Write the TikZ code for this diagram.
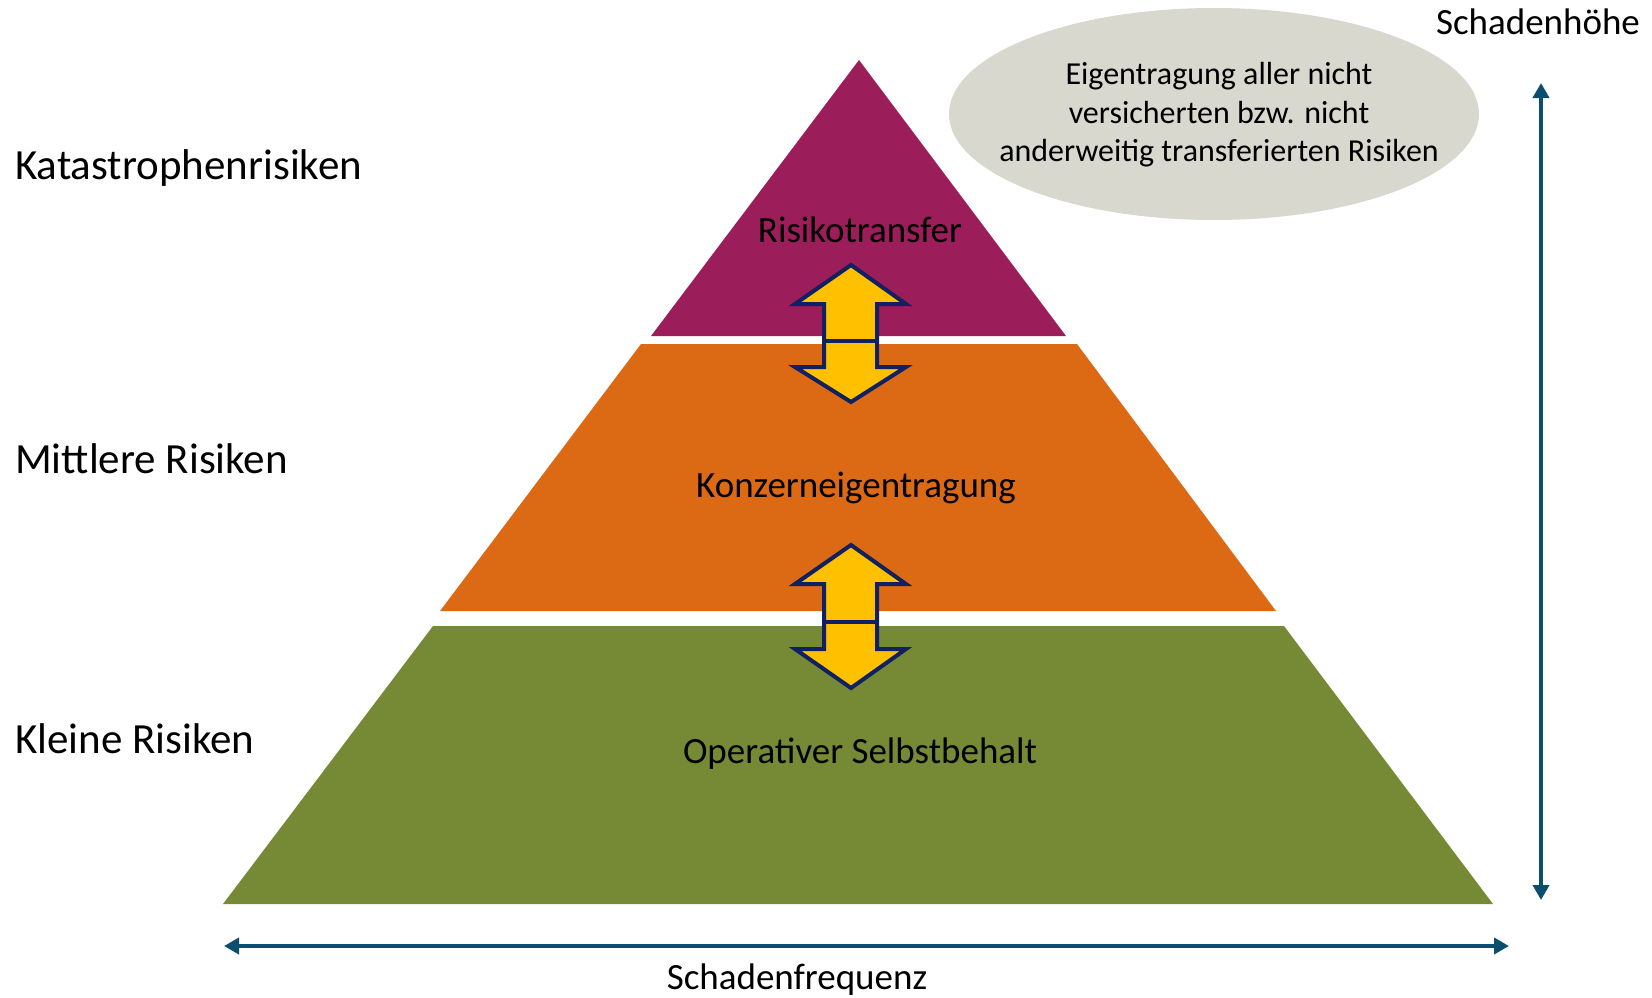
\documentclass[tikz,border=0pt]{standalone}
\usepackage{fontspec}
\setmainfont{Carlito}
\usetikzlibrary{arrows.meta}
\definecolor{topcol}{RGB}{155,29,89}
\definecolor{midcol}{RGB}{220,106,21}
\definecolor{lowcol}{RGB}{118,137,52}
\definecolor{ellcol}{RGB}{216,216,206}
\definecolor{axiscol}{RGB}{12,78,110}
\definecolor{arrfill}{RGB}{255,192,0}
\definecolor{arrline}{RGB}{16,32,96}
\tikzset{
  sidelabel/.style={anchor=west, font=\fontsize{43}{50}\selectfont, inner sep=0pt},
  tierlabel/.style={font=\fontsize{37}{44}\selectfont, inner sep=0pt},
  axislabel/.style={font=\fontsize{37}{44}\selectfont, inner sep=0pt},
  axisarrow/.style={draw=axiscol, line width=4.5pt, {Triangle[length=15pt,width=16pt]}-{Triangle[length=15pt,width=16pt]}},
  dblarrow/.style={draw=arrline, fill=arrfill, line width=4pt, line join=miter},
}
\begin{document}
\begin{tikzpicture}[x=1pt,y=-1pt]
\useasboundingbox (0,0) rectangle (1652,998);
\fill[white] (0,0) rectangle (1652,998);

% pyramid tiers
\fill[topcol] (859,60) -- (1066,336) -- (651,336) -- cycle;
\fill[midcol] (641,344) -- (1077,344) -- (1276,611) -- (440,611) -- cycle;
\fill[lowcol] (433,626) -- (1284,626) -- (1493,904) -- (223,904) -- cycle;

% tier names
\node[tierlabel] (t1) at (860,230) {Risikotransfer};
\node[tierlabel] (t2) at (856,488) {Konzerneigentragung};
\node[tierlabel] (t3) at (860,754) {Operativer Selbstbehalt};

% double arrows between tiers
\draw[dblarrow] (851,265) -- (906,304) -- (877,304) -- (877,367) -- (906,367)
  -- (851,402) -- (795,367) -- (824,367) -- (824,304) -- (795,304) -- cycle;
\draw[arrline, line width=4pt] (824,341) -- (877,341);
\draw[dblarrow] (851,545) -- (906,584) -- (877,584) -- (877,649) -- (906,649)
  -- (851,688) -- (795,649) -- (824,649) -- (824,584) -- (795,584) -- cycle;
\draw[arrline, line width=4pt] (824,622) -- (877,622);

% risk classes
\node[sidelabel] (k1) at (15,168) {Katastrophenrisiken};
\node[sidelabel] (k2) at (15,459) {Mittlere Risiken};
\node[sidelabel] (k3) at (15,739) {Kleine Risiken};

% note ellipse
\fill[ellcol] (1214,114) ellipse [x radius=265, y radius=106];
\node[font=\fontsize{32}{38.5}\selectfont, align=center, inner sep=0pt] (note) at (1219,115)
  {Eigentragung aller nicht\\versicherten bzw. nicht\\anderweitig transferierten Risiken};

% axes
\coordinate (vtop) at (1541,83);
\coordinate (vbot) at (1541,900);
\coordinate (hl) at (224,946);
\coordinate (hr) at (1509,946);
\draw[axisarrow] (vtop) -- (vbot);
\draw[axisarrow] (hl) -- (hr);
\node[axislabel] (yl) at (1538,22) {Schadenhöhe};
\node[axislabel] (xl) at (797,980) {Schadenfrequenz};
\end{tikzpicture}
\end{document}
